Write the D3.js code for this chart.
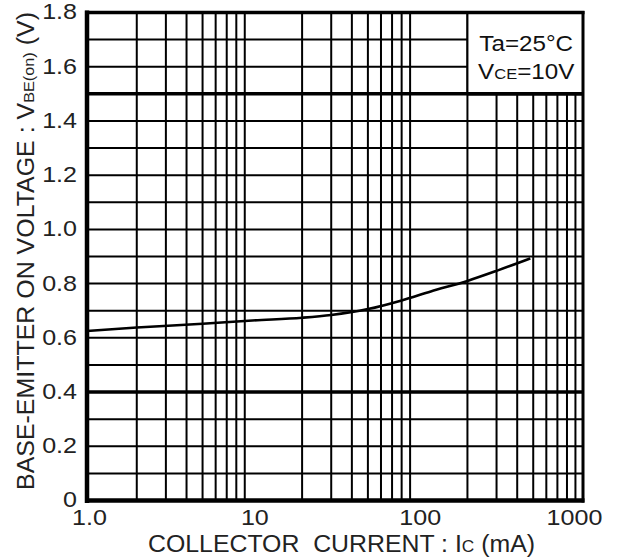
<!DOCTYPE html>
<html>
<head>
<meta charset="utf-8">
<script src="https://cdn.jsdelivr.net/npm/d3@7"></script>
<style>
  html, body { margin: 0; padding: 0; background: #fff; }
  svg { display: block; font-family: "Liberation Sans", Arial, sans-serif; }
</style>
</head>
<body>
<svg id="chart" width="621" height="560"></svg>
<script>
// Base-emitter on voltage vs. collector current (Ta = 25°C, VCE = 10 V)
const currentMA = [1, 2, 5, 10, 20, 30, 50, 80, 120, 200, 300, 480];
const vbeOn     = [0.625, 0.638, 0.652, 0.664, 0.674, 0.684, 0.706, 0.738, 0.771, 0.81, 0.847, 0.893];

const xTickValues = [1, 10, 100, 1000];
const xTickLabels = ["1.0", "10", "100", "1000"];
const yTickValues = [0, 0.2, 0.4, 0.6, 0.8, 1.0, 1.2, 1.4, 1.6, 1.8];
const yTickLabels = ["0", "0.2", "0.4", "0.6", "0.8", "1.0", "1.2", "1.4", "1.6", "1.8"];
const heavyRows   = [0.4, 1.5];
const conditions  = [["Ta=25°C"], ["V", "CE", "=10V"]];

const pLeft = 87, pRight = 583, pTop = 12.5, pBottom = 500.5;
const FONT = "Liberation Sans, Arial, sans-serif";

const svg = d3.select("#chart");
const x = d3.scaleLog().domain([1, 1000]).range([pLeft, pRight]);
const y = d3.scaleLinear().domain([0, 1.8]).range([pBottom, pTop]);

// widen lettering horizontally (the typeface is set slightly expanded)
function widen(sel, factor) {
  sel.each(function () {
    const w = this.getComputedTextLength();
    d3.select(this).attr("textLength", w * factor).attr("lengthAdjust", "spacingAndGlyphs");
  });
}

// Grid: minor log columns, decades heavier
const cols = [];
for (let d = 1; d < 1000; d *= 10) for (let m = 2; m <= 9; m++) cols.push(d * m);
const rows = d3.range(1, 18).map(i => +(i * 0.1).toFixed(1));

const grid = svg.append("g");
grid.selectAll("line.v").data(cols).join("line")
  .attr("x1", d => x(d)).attr("x2", d => x(d))
  .attr("y1", pTop).attr("y2", pBottom)
  .attr("stroke", "#000")
  .attr("stroke-width", d => (d === 10 || d === 100) ? 3.5 : 2);
grid.selectAll("line.h").data(rows).join("line")
  .attr("x1", pLeft).attr("x2", pRight)
  .attr("y1", d => y(d)).attr("y2", d => y(d))
  .attr("stroke", "#000")
  .attr("stroke-width", d => heavyRows.includes(d) ? 3.5 : 2);

// Conditions box in the upper-right corner
svg.append("rect")
  .attr("x", x(200)).attr("y", y(1.8))
  .attr("width", x(1000) - x(200)).attr("height", y(1.5) - y(1.8))
  .attr("fill", "#fff").attr("stroke", "#000").attr("stroke-width", 2);
svg.append("line").attr("x1", x(200)).attr("x2", pRight)
  .attr("y1", y(1.5)).attr("y2", y(1.5)).attr("stroke", "#000").attr("stroke-width", 3.5);

const cx = (x(200) + x(1000)) / 2 + 1;
const t1 = svg.append("text").attr("x", cx).attr("y", 51)
  .attr("text-anchor", "middle").attr("font-size", 22).attr("fill", "#111")
  .text(conditions[0][0]);
const t2 = svg.append("text").attr("x", cx).attr("y", 79)
  .attr("text-anchor", "middle").attr("font-size", 22).attr("fill", "#111");
t2.append("tspan").text(conditions[1][0]);
t2.append("tspan").attr("font-size", 15).text(conditions[1][1]);
t2.append("tspan").text(conditions[1][2]);
widen(t1, 1.1);
widen(t2, 1.1);

// Frame
svg.append("line").attr("x1", pLeft).attr("x2", pLeft).attr("y1", pTop - 2).attr("y2", pBottom + 2.5)
  .attr("stroke", "#000").attr("stroke-width", 4.5);
svg.append("line").attr("x1", pLeft - 2).attr("x2", pRight + 1.5).attr("y1", pBottom).attr("y2", pBottom)
  .attr("stroke", "#000").attr("stroke-width", 4.5);
svg.append("line").attr("x1", pLeft - 2).attr("x2", pRight + 1.5).attr("y1", pTop).attr("y2", pTop)
  .attr("stroke", "#000").attr("stroke-width", 3.5);
svg.append("line").attr("x1", pRight).attr("x2", pRight).attr("y1", pTop - 1.5).attr("y2", pBottom + 2)
  .attr("stroke", "#000").attr("stroke-width", 3);

// Curve
const pts = currentMA.map((c, i) => [c, vbeOn[i]]);
svg.append("path").datum(pts)
  .attr("fill", "none").attr("stroke", "#000").attr("stroke-width", 2.6)
  .attr("d", d3.line().x(d => x(d[0])).y(d => y(d[1])).curve(d3.curveMonotoneX));

// Axes (labels only)
const yAxis = svg.append("g").attr("transform", `translate(${pLeft - 7},0)`)
  .call(d3.axisLeft(y).tickValues(yTickValues).tickSize(0)
    .tickFormat((d, i) => yTickLabels[i]));
yAxis.select(".domain").remove();
yAxis.selectAll("text").attr("font-size", 22).attr("fill", "#222")
  .attr("font-family", FONT).attr("dy", "0.29em");
widen(yAxis.selectAll("text"), 1.14);

const xAxis = svg.append("g").attr("transform", `translate(0,${pBottom + 6})`)
  .call(d3.axisBottom(x).tickValues(xTickValues).tickSize(0)
    .tickFormat((d, i) => xTickLabels[i]));
xAxis.select(".domain").remove();
xAxis.selectAll("text").attr("font-size", 22).attr("fill", "#222")
  .attr("font-family", FONT)
  .attr("dx", (d, i) => i === xTickValues.length - 1 ? -9 : 2);
widen(xAxis.selectAll("text"), 1.14);

// Axis titles
const xt = svg.append("text").attr("x", 341.5).attr("y", 552)
  .attr("text-anchor", "middle").attr("font-size", 23).attr("fill", "#222")
  .attr("xml:space", "preserve");
xt.append("tspan").text("COLLECTOR  CURRENT : I");
xt.append("tspan").attr("font-size", 16).text("C");
xt.append("tspan").text(" (mA)");
xt.attr("textLength", 387).attr("lengthAdjust", "spacingAndGlyphs");

const yt = svg.append("text")
  .attr("transform", `translate(34,251) rotate(-90)`)
  .attr("text-anchor", "middle").attr("font-size", 23).attr("fill", "#222");
yt.append("tspan").text("BASE-EMITTER ON VOLTAGE : V");
yt.append("tspan").attr("font-size", 15).text("BE(on)");
yt.append("tspan").text(" (V)");
yt.attr("textLength", 478).attr("lengthAdjust", "spacingAndGlyphs");
</script>
</body>
</html>
